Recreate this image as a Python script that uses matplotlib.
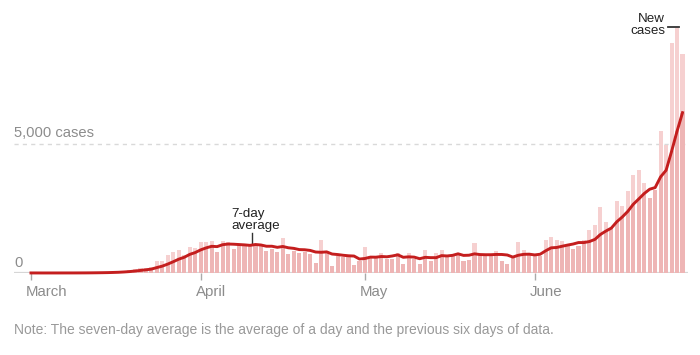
import matplotlib.pyplot as plt
import numpy as np
import pandas as pd

# daily new cases (Mar 1 .. Jun 28)
march = [2, 1, 0, 1, 2, 2, 4, 4, 3, 7, 7, 15, 20, 25, 30, 45, 55, 90, 120,
         170, 190, 200, 230, 480, 480, 680, 810, 880, 710, 1010, 980]
april = [1210, 1220, 1230, 800, 1230, 1190, 930, 1120, 1130, 1100, 1030, 1100,
         850, 930, 825, 1360, 750, 865, 775, 800, 750, 390, 1290, 860, 280,
         640, 605, 605, 320, 480]
may = [1010, 650, 620, 790, 530, 540, 790, 340, 780, 535, 360, 910, 450, 790,
       890, 690, 700, 775, 480, 500, 1160, 700, 645, 700, 850, 470, 355, 600,
       1190, 900, 740]
june = [650, 655, 1290, 1400, 1290, 1230, 1060, 930, 1060, 1290, 1680, 1870,
        2560, 1990, 1740, 2780, 2580, 3190, 3800, 4000, 3470, 2910, 3230, 5490,
        4970, 8910, 9490, 8500]

cases = np.array(march + april + may + june, dtype=float)
dates = pd.date_range('2020-03-01', periods=len(cases), freq='D')
avg = pd.Series(cases).rolling(7, min_periods=1).mean().values

month_starts = pd.to_datetime(['2020-03-01', '2020-04-01', '2020-05-01', '2020-06-01'])
month_labels = ['March', 'April', 'May', 'June']

plt.rcParams['font.family'] = ['Liberation Sans', 'DejaVu Sans']

fig = plt.figure(figsize=(7, 3.55), dpi=100)
ax = fig.add_axes([14 / 700, 82 / 355, 674 / 700, 258 / 355])

day = pd.Timedelta(days=1)

ax.axhline(5000, color='#d9d9d9', lw=1, ls=(0, (3, 3)), zorder=0)
ax.axhline(0, color='#d6d6d6', lw=1.6, zorder=0)

ax.bar(dates, cases, width=0.75, color='#f6d0d0', linewidth=0, zorder=1)
ax.bar(dates, np.minimum(cases, avg), width=0.75, color='#eeb5b5', linewidth=0, zorder=2)
ax.plot(dates, avg, color='#c41e1e', lw=2.1, solid_joinstyle='round', zorder=3, clip_on=False)

ax.set_xlim(dates[0] - 3.1 * day, dates[-1] + 1.0 * day)
ax.set_ylim(0, 10000)

for s in ax.spines.values():
    s.set_visible(False)
ax.set_yticks([])
ax.set_xticks(month_starts)
ax.tick_params(axis='x', length=5, width=1, color='#aaaaaa', labelbottom=False)

for d, lab in zip(month_starts, month_labels):
    ax.text(d - 0.9 * day, -720, lab, ha='left', va='center', fontsize=10.8,
            color='#8c8c8c', clip_on=False)

ax.text(0, 5430, '5,000 cases', transform=ax.get_yaxis_transform(), ha='left',
        va='center', fontsize=10.6, color='#8c8c8c')
ax.text(0, 390, '0', transform=ax.get_yaxis_transform(), ha='left',
        va='center', fontsize=10.6, color='#8c8c8c')

# 7-day average label
i_lab = 40
ax.text(dates[i_lab] - 3.4 * day, 2060, '7-day\naverage', ha='left', va='center',
        fontsize=9.6, color='#222222', linespacing=1.0)
ax.plot([dates[i_lab] + 0.3 * day] * 2, [avg[i_lab] + 80, 1540], color='#333333', lw=1)

# new cases label
i_new = len(cases) - 2
ax.text(dates[i_new] - 2.2 * day, 9620, 'New\ncases', ha='right', va='center',
        multialignment='right', fontsize=9.6, color='#222222', linespacing=1.0)
ax.plot([dates[i_new] - 1.6 * day, dates[i_new] + 0.4 * day], [cases[i_new] + 60] * 2,
        color='#333333', lw=1.3, clip_on=False)

fig.text(14 / 700, 1 - 330 / 355,
         'Note: The seven-day average is the average of a day and the previous six days of data.',
         ha='left', va='center', fontsize=10, color='#999999')

fig.savefig('out.png', dpi=100)
